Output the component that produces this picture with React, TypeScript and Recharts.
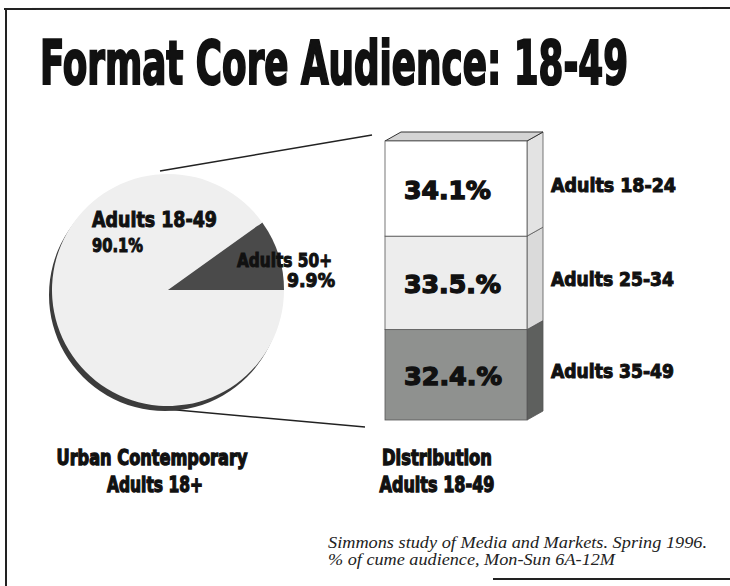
import React from 'react';
import { PieChart, Pie, Cell, BarChart, Bar, XAxis, YAxis, LabelList } from 'recharts';

// pie: share of Urban Contemporary audience, adults 18+
const pieNames = ['Adults 50+', 'Adults 18-49'];
const pieValues = [9.9, 90.1];
const pieLabels = ['9.9%', '90.1%'];

// stacked block: split of adults 18-49, bottom to top
const segNames = ['Adults 35-49', 'Adults 25-34', 'Adults 18-24'];
const segValues = [32.4, 33.5, 34.1];
const segLabels = ['32.4.%', '33.5.%', '34.1%'];

const W = 730;
const H = 586;
const COND = "'Liberation Sans Narrow', 'DejaVu Sans Condensed', 'Roboto', sans-serif";
const SERIF = "'Liberation Serif', 'DejaVu Serif', serif";

const pieData = pieNames.map((name, i) => ({ name, value: pieValues[i], label: pieLabels[i] }));
const pieColors = ['#4a4a4a', '#efefef'];

const barData = [
    segNames.reduce((row: any, _n, i) => ({ ...row, ['s' + i]: segValues[i] }), { name: 'Adults 18-49' }),
];

const fronts = ['#8f918f', '#ededed', '#ffffff'];
const sides = ['#5e605e', '#dadada', '#e3e3e3'];

// heavy condensed text: drawn small, stretched up from the baseline
const K = 0.62;
const Cond = ({ x, y, w, size, children, anchor, weight }: any) => (
    <text
        x={x}
        y={y}
        transform={`matrix(1 0 0 ${1 / K} 0 ${y - y / K})`}
        fontFamily={COND}
        fontWeight={700}
        fontSize={size * K}
        textLength={w}
        lengthAdjust="spacingAndGlyphs"
        textAnchor={anchor || 'start'}
        fill="#111"
        stroke="#111"
        strokeWidth={weight ?? 0.6}
    >
        {children}
    </text>
);

// front face + right side (+ top face for the top block)
const makeBlock = (i: number) => (props: any) => {
    const { x, y, width, height } = props;
    const dx = 16;
    const dy = 9;
    return (
        <g>
            <polygon
                points={`${x + width},${y} ${x + width + dx},${y - dy} ${x + width + dx},${y + height - dy} ${x + width},${y + height}`}
                fill={sides[i]}
                stroke="#555"
                strokeWidth={0.8}
            />
            {i === segValues.length - 1 && (
                <polygon
                    points={`${x},${y} ${x + dx},${y - dy} ${x + width + dx},${y - dy} ${x + width},${y}`}
                    fill="#d4d4d4"
                    stroke="#333"
                    strokeWidth={1}
                />
            )}
            <rect x={x} y={y} width={width} height={height} fill={fronts[i]} stroke="#555" strokeWidth={0.8} />
        </g>
    );
};

const valueWidths = [98, 97, 87];
const nameWidths = [123, 123, 125];

const makeInside = (i: number) => (props: any) => {
    const { x, y, height } = props;
    return (
        <Cond x={x + 19} y={y + height / 2 + 10} w={valueWidths[i]} size={25} weight={0.8}>
            {segLabels[i]}
        </Cond>
    );
};

const makeOutside = (i: number) => (props: any) => {
    const { x, y, width, height } = props;
    return (
        <Cond x={x + width + 24} y={y + height / 2 + 3} w={nameWidths[i]} size={19}>
            {segNames[i]}
        </Cond>
    );
};

const App: React.FC = () => {
    return (
        <div style={{ position: 'absolute', left: 0, top: 0, width: W, height: H, background: '#fff', overflow: 'hidden' }}>
            <svg width={W} height={H} style={{ position: 'absolute', left: 0, top: 0 }}>
                {/* frame */}
                <line x1={4} y1={9} x2={W} y2={8} stroke="#222" strokeWidth={2} />
                <line x1={6} y1={9} x2={6} y2={H} stroke="#222" strokeWidth={2} />
                <line x1={493} y1={579} x2={W} y2={579} stroke="#222" strokeWidth={2} />

                <Cond x={40} y={84} w={588} size={60} weight={1.3}>Format Core Audience: 18-49</Cond>

                {/* connectors pie -> block */}
                <line x1={160} y1={171} x2={372} y2={135} stroke="#222" strokeWidth={1.5} />
                <line x1={166} y1={409} x2={365} y2={427} stroke="#222" strokeWidth={1.5} />

                <Cond x={152} y={465} w={191} size={22} weight={0.8} anchor="middle">Urban Contemporary</Cond>
                <Cond x={155} y={492} w={96} size={22} weight={0.8} anchor="middle">Adults 18+</Cond>
                <Cond x={437} y={465} w={110} size={22} weight={0.8} anchor="middle">Distribution</Cond>
                <Cond x={437} y={492} w={115} size={22} weight={0.8} anchor="middle">Adults 18-49</Cond>

                <text x={328} y={548} fontFamily={SERIF} fontStyle="italic" fontSize={16} textLength={379} lengthAdjust="spacingAndGlyphs" fill="#222">
                    Simmons study of Media and Markets. Spring 1996.
                </text>
                <text x={328} y={565} fontFamily={SERIF} fontStyle="italic" fontSize={16} textLength={287} lengthAdjust="spacingAndGlyphs" fill="#222">
                    % of cume audience, Mon-Sun 6A-12M
                </text>
            </svg>

            <div style={{ position: 'absolute', left: 0, top: 0 }}>
                <PieChart width={W} height={H}>
                    {/* dark rim under the disc */}
                    <Pie
                        data={[{ name: 'rim', value: 100 }]}
                        dataKey="value"
                        cx={160}
                        cy={290}
                        outerRadius={116}
                        startAngle={0}
                        endAngle={360}
                        stroke="none"
                        fill="#3c3c3c"
                        isAnimationActive={false}
                    />
                    <Pie
                        data={pieData}
                        dataKey="value"
                        cx={163}
                        cy={285}
                        outerRadius={116}
                        startAngle={0}
                        endAngle={360}
                        stroke="none"
                        isAnimationActive={false}
                    >
                        {pieData.map((d, i) => (
                            <Cell key={d.name} fill={pieColors[i]} />
                        ))}
                    </Pie>
                </PieChart>
            </div>

            <svg width={W} height={H} style={{ position: 'absolute', left: 0, top: 0, pointerEvents: 'none' }}>
                <Cond x={92} y={227} w={125} size={21}>{pieNames[1]}</Cond>
                <Cond x={92} y={252} w={51} size={19}>{pieLabels[1]}</Cond>
                <Cond x={237} y={267} w={95} size={19}>{pieNames[0]}</Cond>
                <Cond x={287} y={287} w={48} size={19}>{pieLabels[0]}</Cond>
            </svg>

            <div style={{ position: 'absolute', left: 0, top: 0 }}>
                <BarChart
                    width={W}
                    height={H}
                    data={barData}
                    margin={{ top: 141, right: 203, bottom: 166, left: 385 }}
                    barCategoryGap={0}
                >
                    <XAxis dataKey="name" hide />
                    <YAxis type="number" domain={[0, 100]} hide />
                    {segNames.map((n, i) => (
                        <Bar key={n} dataKey={'s' + i} stackId="a" shape={makeBlock(i)} isAnimationActive={false}>
                            <LabelList dataKey={'s' + i} content={makeInside(i)} />
                            <LabelList dataKey={'s' + i} content={makeOutside(i)} />
                        </Bar>
                    ))}
                </BarChart>
            </div>
        </div>
    );
};

export default App;
